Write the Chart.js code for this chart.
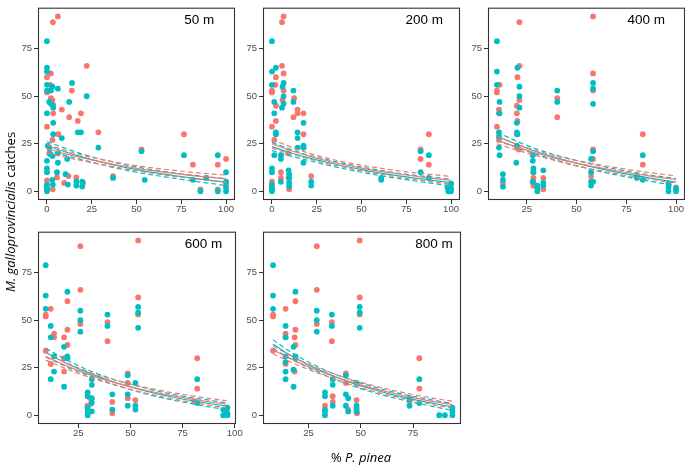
<!DOCTYPE html>
<html>
<head>
<meta charset="utf-8">
<script src="https://cdn.jsdelivr.net/npm/chart.js@4.4.0/dist/chart.umd.min.js"></script>
<style>
  body { margin: 0; width: 685px; height: 465px; background: #fff; position: relative; overflow: hidden; }
  canvas { position: absolute; }
  .title { position: absolute; font-family: "Open Sans", sans-serif; font-size: 13px; color: #000; white-space: nowrap; }
  #ytitle { left: 10px; top: 212px; transform: translate(-50%, -50%) rotate(-90deg); }
  #xtitle { left: 361px; top: 457px; transform: translate(-50%, -50%); }
</style>
</head>
<body>
<canvas id="p1"></canvas>
<canvas id="p2"></canvas>
<canvas id="p3"></canvas>
<canvas id="p4"></canvas>
<canvas id="p5"></canvas>
<div class="title" id="ytitle"><i>M. galloprovincialis</i> catches</div>
<div class="title" id="xtitle">% <i>P. pinea</i></div>
<script>
// --- data: [% P. pinea, catches] ---
const yTicks = [0, 25, 50, 75];
const panelNames = ['50 m', '200 m', '400 m', '600 m', '800 m'];

// 50 m
const red50 = [[3.3,89],[6.1,92],[0,60],[2.2,62],[0,52],[1.9,56],[2.2,49],[3.5,45.5],[3.5,41],[13.9,53],[8.3,43],[12.4,39],[19,41],[17.2,37],[22.2,66],[6.3,30],[28.7,31],[0,34],[3.1,27],[1.3,20],[5.6,7.3],[9.6,4.4],[12,8],[16.4,7.3],[20.2,4.4],[3.2,1],[0,5.7],[36.9,8],[52.8,22],[76.5,30],[81.5,14],[85.7,1],[95.4,14],[100,17],[95.4,1],[100,4],[89,7],[3,48],[1,53]];
const teal50 = [[0,79],[0,65],[0,63],[0,56],[0,53],[2.2,53],[3.1,55],[6.1,54],[1.3,47],[2.2,46],[3,45.5],[3.5,44],[0,41],[3.5,36],[3.5,30],[8.3,28],[12.4,47],[14,57],[22.2,50],[17.2,31],[19,31],[0.5,24],[1.3,23],[1.9,19.5],[0,16],[3.1,18.5],[6.1,20],[6.1,15],[0,12],[0,10],[5.6,10],[10.4,9],[11.7,3.5],[16.4,5],[16.4,3],[19.7,5],[19.7,2.5],[0,3.5],[0,2],[0,1],[0,0],[3,6],[3.3,3.5],[11.3,17],[28.7,23],[36.9,7],[52.8,21],[54.6,6],[76.5,19],[81.5,6],[85.7,0],[95.4,19],[95.4,0],[100,10],[100,5],[100,2],[100,0],[89,7]];
// 200 m
const red200 = [[5.6,89],[6.5,92],[5.6,66],[6.5,62],[2.2,60],[0,53],[0,52],[1.9,56],[2.2,45],[5.9,48],[6.5,53],[2.2,37],[0,34],[1.3,27],[0,5],[5,10],[5,7],[9.3,7],[9.6,1],[12,39],[12.4,49],[14.3,43],[14.3,41],[17.6,41],[17.6,30],[17.6,23],[21.9,8],[83,22],[83,17],[87.6,30],[87.6,14],[100,4],[9,20]];
const teal200 = [[0,79],[0,63],[2.2,65],[0,56],[1.3,47],[1.3,41],[2.2,31],[2.2,30],[1.3,19],[0,12],[0,10],[0,3.5],[0,2],[0,1],[0,0],[5.9,55],[6.5,57],[6.5,50],[6.5,46],[5.6,44],[5,19],[5,17],[5,5],[9.3,11],[9.6,9],[9.6,7],[9.6,4.5],[9.6,2.7],[12,53],[12,47],[14.3,31],[14.3,28],[14.3,23],[17.6,36],[17.6,24],[17.6,23],[17.6,15],[21.9,5],[21.9,3],[61,7],[61,6],[83,21],[83,10],[87.6,19],[87.6,7],[98,2],[100,4],[100,0],[98.5,0],[100,1.5]];
// 400 m
const red400 = [[21.3,89],[58.3,92],[10,53],[10,52],[11.3,56],[11,43],[10,34],[11,27],[20.3,60],[21.3,66],[20,45],[20,41],[20.3,37],[21.3,48],[20,30],[20,23],[13,4.4],[28.3,10],[28.3,7],[28.3,5],[28.3,3],[33.3,7],[33.3,1],[30.3,2],[40.3,49],[40.3,39],[58.3,62],[58.3,53],[58.3,22],[58.3,17],[57.3,8],[83.3,30],[83.3,14],[80.3,8],[100,2],[11,41],[21,22]];
const teal400 = [[10,79],[10,63],[10,56],[11.3,47],[11.3,41],[11,31],[11,23],[11.3,19],[13,9],[13,6],[13,2.4],[20.3,65],[21.3,55],[21.3,50],[21.3,44],[20,36],[20,31],[20.3,30],[20,24],[19.7,15],[28,19],[28,16],[28.3,12],[28.3,10],[28,5],[30.3,3],[30.3,1.4],[30.3,0],[33.3,11],[33.3,4.4],[33.3,3],[40.3,53],[40.3,47],[58.3,57],[58.3,54],[58.3,46],[58.3,21],[57.3,17],[57.3,10],[57.3,5],[58.3,5],[57.3,3],[83.3,19],[83.3,6],[80.3,7],[96.2,4],[96.2,2],[96.2,0],[100,1.5],[100,0],[11,29]];
// 600 m
const red600 = [[26,89],[53.7,92],[26,66],[19.8,60],[9.4,53],[9.4,52],[11.8,56],[13.4,43],[13.4,41],[18.2,41],[19.8,45],[19.8,37],[26,48],[9.4,34],[11.8,27],[18.2,30],[18.2,23],[39,49],[39,39],[53.7,62],[53.7,53],[48.7,22],[48.7,17],[48.7,9],[52.4,8],[29.4,5],[30.8,9],[41.3,7],[41.3,1],[82,30],[82,14],[80.6,7.4],[96,2],[31,6]];
const teal600 = [[9.4,79],[9.4,63],[9.4,56],[11.8,47],[11.8,41],[13.4,31],[13.4,23],[11.8,19],[18.2,15],[18.2,36],[19.8,65],[19.8,31],[19.8,30],[26,55],[26,50],[26,44],[31.5,19],[31.5,16],[29.5,12],[29.5,10],[31.5,9],[31.5,6.6],[31.5,2],[29.5,4],[29.5,2],[29.5,0],[39,53],[39,47],[41.3,11],[41.3,3],[48.7,21],[48.7,11],[48.7,5],[52.4,17],[52.4,5],[52.4,3],[53.7,57],[53.7,54],[53.7,46],[82,19],[82,6.4],[94.5,3],[95.5,2],[96.5,1],[94.5,0],[96.5,0],[96.5,4]];
// 800 m
const red800 = [[29,89],[49.5,92],[29,66],[18.8,60],[8.1,53],[8.1,52],[14.1,56],[14.1,43],[14.1,41],[18.4,41],[18.8,45],[18.8,37],[29,48],[8.1,34],[14.1,27],[18.4,23],[36.2,49],[36.2,39],[49.5,62],[49.5,53],[42.9,22],[42.9,17],[48,8],[48,4],[48.2,1],[32.9,5],[36.6,10],[36.6,7],[44,3],[78,30],[78,14],[73.3,7.4]];
const teal800 = [[8.1,79],[8.1,63],[8.1,56],[14.1,47],[14.1,41],[14.1,31],[14.1,23],[14.1,19],[17.9,36],[17.9,15],[18.8,65],[18.8,31],[18.8,30],[17.9,24],[29,55],[29,50],[29,44],[32.9,12],[32.9,10],[32.9,3],[32.9,2],[32.9,0],[36.2,53],[36.2,47],[36.6,19],[36.6,16],[36.6,5],[42.9,21],[42.9,11],[42.9,5],[44,9],[44,2],[48,17],[48,5],[48,3],[48,2],[49.5,57],[49.5,54],[49.5,46],[73.3,9],[73.3,5],[78,19],[78,6.4],[87.5,0],[90.2,0],[93.8,4],[93.8,2],[93.8,0],[14.1,28]];

// fitted curves and confidence limits, read at these x values
const fitX50 = [0,10,20,30,40,50,60,70,80,90,100];
const redFit50 = [22.5,19.8,17.5,15.5,13.7,12.1,10.7,9.5,8.4,7.4,6.5];
const redHi50 = [24.7,21.6,18.9,16.8,15,13.5,12.2,11.1,10.1,9.2,8.5];
const redLo50 = [20.3,18,16,14.2,12.4,10.8,9.3,8,6.8,5.7,4.6];
const tealFit50 = [24,20.8,18,15.5,13.3,11.4,9.8,8.4,7.1,5.9,4.8];
const tealHi50 = [26.2,22.7,19.5,16.9,14.7,12.8,11.2,9.8,8.6,7.6,6.7];
const tealLo50 = [21.8,18.9,16.5,14.1,11.9,10,8.4,7,5.6,4.3,3];

const fitX200 = [0,10,20,30,40,50,60,70,80,90,100];
const redFit200 = [25,21.6,18.7,16.2,14.1,12.2,10.6,9.2,7.9,6.8,5.8];
const redHi200 = [27.3,23.5,20.2,17.6,15.5,13.7,12.2,10.9,9.7,8.7,7.8];
const redLo200 = [22.7,19.7,17.2,14.8,12.7,10.7,9,7.5,6.1,4.9,3.8];
const tealFit200 = [23.5,20.4,17.7,15.4,13.3,11.4,9.7,8.2,6.9,5.7,4.6];
const tealHi200 = [25.6,22.2,19.1,16.8,14.7,12.8,11.1,9.6,8.4,7.3,6.3];
const tealLo200 = [21.4,18.6,16.3,14,11.9,10,8.3,6.8,5.4,4.1,2.9];

const fitX400 = [10,20,30,40,50,60,70,80,90,100];
const redFit400 = [27,23.2,20,17.2,14.8,12.7,10.8,9.1,7.6,6.2];
const redHi400 = [29,24.8,21.3,18.5,16.2,14.2,12.4,10.8,9.4,8.1];
const redLo400 = [25,21.6,18.7,15.9,13.4,11.2,9.2,7.4,5.8,4.3];
const tealFit400 = [29,24.6,20.8,17.6,14.8,12.3,10.1,8.2,6.4,4.8];
const tealHi400 = [31.2,26.3,22.2,18.9,16.2,13.8,11.6,9.8,8.1,6.7];
const tealLo400 = [26.8,22.9,19.4,16.3,13.4,10.8,8.6,6.6,4.7,2.9];

const fitX600 = [9.4,20,30,40,50,60,70,80,90,96];
const redFit600 = [31,25.7,21.5,18,15,12.5,10.3,8.4,6.7,5.8];
const redHi600 = [33,27.3,22.9,19.3,16.4,14,11.9,10.1,8.5,7.7];
const redLo600 = [29,24.1,20.1,16.7,13.6,11,8.7,6.7,4.9,3.9];
const tealFit600 = [33,27,22.3,18.3,14.9,12,9.6,7.6,5.8,4.8];
const tealHi600 = [35.3,28.8,23.7,19.6,16.3,13.5,11.1,9.2,7.6,6.6];
const tealLo600 = [30.7,25.2,20.9,17,13.5,10.5,8.1,6,4,3];

const fitX800 = [8,15,25,35,45,55,65,75,85,93.6];
const redFit800 = [34.5,30.5,25.5,21.3,17.6,14.4,11.7,9.3,7.2,5.6];
const redHi800 = [36.6,32.2,26.9,22.6,19,15.9,13.2,10.9,8.9,7.4];
const redLo800 = [32.4,28.8,24.1,20,16.2,12.9,10.2,7.7,5.5,3.8];
const tealFit800 = [37.5,32.5,26.5,21.5,17.3,13.8,10.9,8.4,6.2,4.4];
const tealHi800 = [39.8,34.4,28,22.8,18.7,15.3,12.4,10,7.9,6.2];
const tealLo800 = [35.2,30.6,25,20.2,15.9,12.3,9.4,6.8,4.5,2.6];

const xTicks50 = [0, 25, 50, 75, 100];
const xTicks200 = [0, 25, 50, 75, 100];
const xTicks400 = [25, 50, 75, 100];
const xTicks600 = [25, 50, 75, 100];
const xTicks800 = [25, 50, 75];

const RED = '#F8766D';
const TEAL = '#00BFC4';
const AXIS_FONT = { family: '"Liberation Sans", Arial, sans-serif', size: 9.5 };

// panel placement: plot box in page pixels and axis ranges
const panels = [
  { id: 'p1', box: [38, 1, 235, 199.5], xr: [-5, 105],    xt: xTicks50,  red: red50,  teal: teal50,  fx: fitX50,  rf: [redFit50, redHi50, redLo50],    tf: [tealFit50, tealHi50, tealLo50] },
  { id: 'p2', box: [263, 1, 460, 199.5], xr: [-5, 105],   xt: xTicks200, red: red200, teal: teal200, fx: fitX200, rf: [redFit200, redHi200, redLo200], tf: [tealFit200, tealHi200, tealLo200] },
  { id: 'p3', box: [488, 1, 684.5, 199.5], xr: [5.5, 104.5], xt: xTicks400, red: red400, teal: teal400, fx: fitX400, rf: [redFit400, redHi400, redLo400], tf: [tealFit400, tealHi400, tealLo400] },
  { id: 'p4', box: [38, 225, 236, 423.5], xr: [5.7, 100.6],  xt: xTicks600, red: red600, teal: teal600, fx: fitX600, rf: [redFit600, redHi600, redLo600], tf: [tealFit600, tealHi600, tealLo600] },
  { id: 'p5', box: [263, 225, 461, 423.5], xr: [3.3, 97.9],  xt: xTicks800, red: red800, teal: teal800, fx: fitX800, rf: [redFit800, redHi800, redLo800], tf: [tealFit800, tealHi800, tealLo800] }
];

const Y_AXIS_W = 32, X_AXIS_H = 22, PAD_R = 10;

const boxPlugin = {
  id: 'panelBox',
  afterDraw(chart) {
    const { ctx, chartArea: a } = chart;
    ctx.save();
    ctx.strokeStyle = '#333333';
    ctx.lineWidth = 1.1;
    ctx.strokeRect(a.left + 0.5, a.top + 0.5, a.right - a.left - 1, a.bottom - a.top - 1);
    ctx.restore();
  }
};

const labelPlugin = {
  id: 'panelLabel',
  afterDatasetsDraw(chart, args, opts) {
    const { ctx, scales } = chart;
    ctx.save();
    ctx.font = '13.5px "Liberation Sans", Arial, sans-serif';
    ctx.fillStyle = '#000';
    ctx.textAlign = 'center';
    ctx.textBaseline = 'middle';
    ctx.fillText(opts.text, scales.x.getPixelForValue(opts.x), scales.y.getPixelForValue(opts.y));
    ctx.restore();
  }
};

function curve(xs, ys, color, dashed) {
  return {
    data: xs.map((x, i) => ({ x: x, y: ys[i] })),
    showLine: true,
    borderColor: color,
    borderWidth: 1.2,
    borderDash: dashed ? [5, 3] : [],
    pointRadius: 0,
    cubicInterpolationMode: 'monotone',
    order: 0
  };
}

function dots(arr, color, order) {
  return {
    data: arr.map(p => ({ x: p[0], y: p[1] })),
    backgroundColor: color,
    borderWidth: 0,
    pointRadius: 2.9,
    order: order
  };
}

panels.forEach((p, k) => {
  const [l, t, r, b] = p.box;
  const cv = document.getElementById(p.id);
  const w = Math.round(r - l + Y_AXIS_W + PAD_R);
  const h = Math.round(b - t + 1 + X_AXIS_H);
  cv.width = w; cv.height = h;
  cv.style.left = (l - Y_AXIS_W) + 'px';
  cv.style.top = (t - 1) + 'px';

  new Chart(cv, {
    type: 'scatter',
    data: {
      datasets: [
        curve(p.fx, p.rf[0], RED, false),
        curve(p.fx, p.rf[1], RED, true),
        curve(p.fx, p.rf[2], RED, true),
        curve(p.fx, p.tf[0], TEAL, false),
        curve(p.fx, p.tf[1], TEAL, true),
        curve(p.fx, p.tf[2], TEAL, true),
        dots(p.teal, TEAL, 1),
        dots(p.red, RED, 2)
      ]
    },
    options: {
      responsive: false,
      animation: false,
      devicePixelRatio: 1,
      layout: { padding: { left: 0, top: 1, right: PAD_R, bottom: 0 } },
      plugins: {
        legend: { display: false },
        tooltip: { enabled: false },
        panelLabel: { text: panelNames[k], x: 85, y: 90 }
      },
      scales: {
        x: {
          type: 'linear',
          min: p.xr[0], max: p.xr[1],
          afterBuildTicks: s => { s.ticks = p.xt.map(v => ({ value: v })); },
          afterFit: s => { s.height = X_AXIS_H; },
          grid: { drawOnChartArea: false, tickLength: 4, color: '#333333' },
          border: { display: false },
          ticks: { color: '#4D4D4D', font: AXIS_FONT, padding: 0, autoSkip: false, maxRotation: 0 }
        },
        y: {
          min: -4.6, max: 96.6,
          afterBuildTicks: s => { s.ticks = yTicks.map(v => ({ value: v })); },
          afterFit: s => { s.width = Y_AXIS_W; },
          grid: { drawOnChartArea: false, tickLength: 4, color: '#333333' },
          border: { display: false },
          ticks: { color: '#4D4D4D', font: AXIS_FONT, padding: 2, autoSkip: false }
        }
      }
    },
    plugins: [boxPlugin, labelPlugin]
  });
});
</script>
</body>
</html>
